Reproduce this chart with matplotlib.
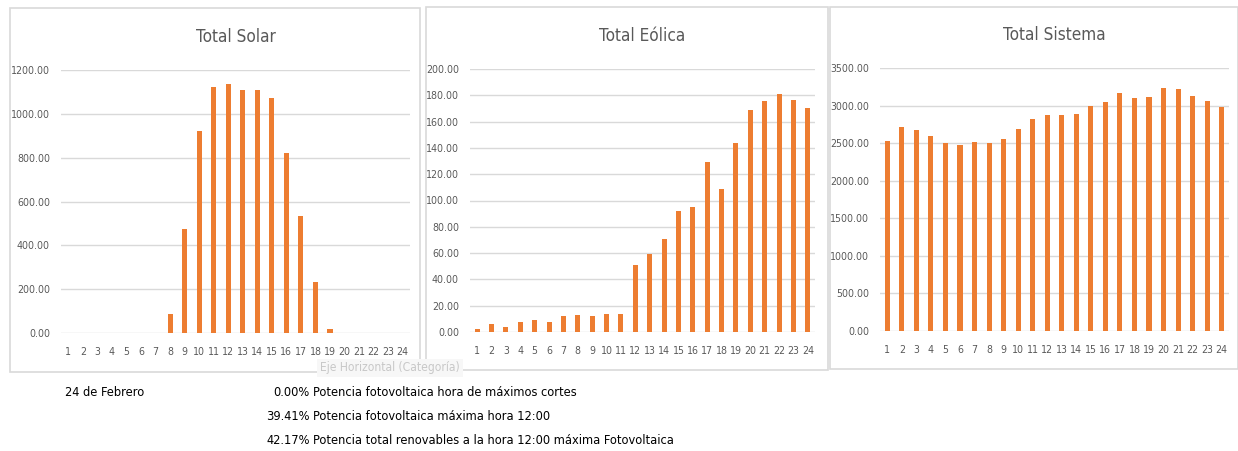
import numpy as np
import matplotlib.pyplot as plt
from matplotlib import font_manager as fm
from matplotlib.patches import Rectangle

# fuente estrecha si existe
nombres = {f.name for f in fm.fontManager.ttflist}
condensada = any(f.name == 'DejaVu Sans' and f.stretch == 'condensed'
                 for f in fm.fontManager.ttflist)
if 'Liberation Sans Narrow' in nombres:
    plt.rcParams['font.family'] = ['Liberation Sans Narrow', 'DejaVu Sans']
    esc = 1.0
elif condensada:
    plt.rcParams['font.family'] = ['DejaVu Sans']
    plt.rcParams['font.stretch'] = 'condensed'
    esc = 0.82
else:
    plt.rcParams['font.family'] = ['Liberation Sans', 'DejaVu Sans']
    esc = 0.78

# Datos horarios (24 de febrero)
horas = list(range(1, 25))
solar = [0, 0, 0, 0, 0, 0, 0, 85, 475, 921, 1121, 1135, 1107, 1110, 1071, 821,
         536, 233, 17, 0, 0, 0, 0, 0]
eolica = [2.0, 5.8, 3.8, 7.4, 9.1, 7.4, 12.2, 12.9, 12.2, 13.5, 13.5, 50.8, 59.1,
          70.6, 92.1, 95.2, 129.4, 109.1, 143.9, 168.5, 175.9, 181.0, 176.4, 170.3]
sistema = [2529, 2710, 2675, 2595, 2506, 2475, 2515, 2506, 2560, 2688, 2826, 2875,
           2875, 2888, 2994, 3043, 3167, 3096, 3110, 3234, 3220, 3127, 3056, 2985]

titulos = ['Total Solar', 'Total Eólica', 'Total Sistema']
limites = [(1200, 200), (200, 20), (3500, 500)]

porcentajes = ['0.00%', '39.41%', '42.17%']
descripciones = ['Potencia fotovoltaica hora de máximos cortes',
                 'Potencia fotovoltaica máxima hora 12:00',
                 'Potencia total renovables a la hora 12:00 máxima Fotovoltaica']

naranja = '#ED7D31'
gris_txt = '#595959'
gris_lin = '#d9d9d9'

W, H = 1238, 451
fig = plt.figure(figsize=(W / 100, H / 100), dpi=100)

# marcos de cada gráfico y áreas de dibujo (en píxeles)
marcos = [(10, 8, 420, 372), (426, 7, 828, 370), (830, 7, 1238, 369)]
areas = [(61, 70, 410, 333), (470, 69, 815, 332), (880, 68, 1229, 331)]

for (x0, y0, x1, y1) in marcos:
    fig.patches.append(Rectangle((x0 / W, 1 - y1 / H), (x1 - x0) / W, (y1 - y0) / H,
                                 transform=fig.transFigure, fill=False,
                                 edgecolor=gris_lin, linewidth=1.2))

for i, datos in enumerate([solar, eolica, sistema]):
    x0, y0, x1, y1 = areas[i]
    ax = fig.add_axes([x0 / W, 1 - y1 / H, (x1 - x0) / W, (y1 - y0) / H])
    ax.bar(horas, datos, width=0.35, color=naranja, zorder=3)
    tope, paso = limites[i]
    ax.set_ylim(0, tope)
    ax.set_xlim(0.5, 24.5)
    ax.set_yticks(np.arange(0, tope + paso / 2, paso))
    ax.yaxis.set_major_formatter(plt.FuncFormatter(lambda v, p: f'{v:.2f}'))
    ax.set_xticks(horas)
    ax.tick_params(length=0, labelsize=9.2 * esc, colors=gris_txt)
    ax.tick_params(axis='y', pad=8)
    ax.tick_params(axis='x', pad=10)
    ax.grid(axis='y', color=gris_lin, linewidth=1, zorder=0)
    for s in ax.spines.values():
        s.set_visible(False)
    ax.set_title(titulos[i], fontsize=15 * esc, color=gris_txt, pad=20)

# etiqueta flotante del eje
fig.text(390 / W, 1 - 368 / H, 'Eje Horizontal (Categoría)', fontsize=10.5 * esc,
         color='#c8c8c8', ha='center', va='center',
         bbox=dict(facecolor='#f7f7f7', edgecolor='none', pad=2))

fig.text(65 / W, 1 - 393 / H, '24 de Febrero', fontsize=11.2 * esc, color='black',
         va='center')
for k in range(3):
    yy = 1 - (393 + 24 * k) / H
    fig.text(310 / W, yy, porcentajes[k], fontsize=11.2 * esc, ha='right', va='center')
    fig.text(313 / W, yy, descripciones[k], fontsize=11.2 * esc, ha='left', va='center')

fig.savefig('out.png', dpi=100, facecolor='white')
